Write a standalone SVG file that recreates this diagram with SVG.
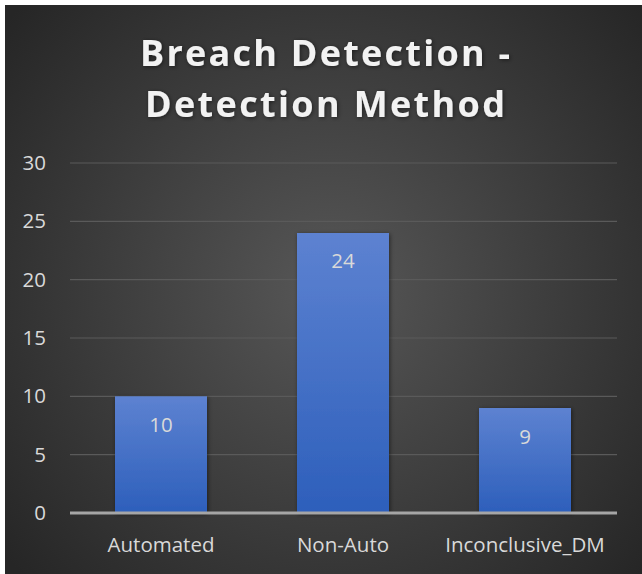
<svg xmlns="http://www.w3.org/2000/svg" width="642" height="574" viewBox="0 0 642 574">
  <defs>
    <radialGradient id="bg" cx="330" cy="290" r="420" gradientUnits="userSpaceOnUse">
      <stop offset="0" stop-color="#575757"/>
      <stop offset="1" stop-color="#262626"/>
    </radialGradient>
    <linearGradient id="bar" x1="0" y1="0" x2="0" y2="1">
      <stop offset="0" stop-color="#5d82d1"/>
      <stop offset="1" stop-color="#2d5fbb"/>
    </linearGradient>
    <filter id="shadow" x="-20%" y="-20%" width="140%" height="140%">
      <feDropShadow dx="1" dy="1" stdDeviation="2" flood-color="#000" flood-opacity="0.5"/>
    </filter>
  </defs>
  <style>
    .title { font-family: "Open Sans", "Noto Sans", sans-serif; font-weight: bold; font-size: 36px; fill: #f2f2f2; }
    .lbl { font-family: "Open Sans", "Noto Sans", sans-serif; font-size: 20.5px; fill: #d9d9d9; }
    .grid { stroke: #5a5a5a; stroke-width: 1.2; }
    .axis { stroke: #a6a6a6; stroke-width: 3; }
    .bar { fill: url(#bar); filter: url(#shadow); }
  </style>
  <rect x="0" y="0" width="642" height="574" fill="#ffffff"/>
  <rect x="5" y="5" width="637" height="569" fill="url(#bg)"/>

  <g id="title" filter="url(#shadow)">
    <text class="title" x="325" y="66" text-anchor="middle" textLength="370" lengthAdjust="spacing">Breach Detection -</text>
    <text class="title" x="325" y="117" text-anchor="middle" textLength="360" lengthAdjust="spacing">Detection Method</text>
  </g>

  <g id="gridlines">
    <line class="grid" x1="70" y1="163" x2="617" y2="163"/>
    <line class="grid" x1="70" y1="221.3" x2="617" y2="221.3"/>
    <line class="grid" x1="70" y1="279.7" x2="617" y2="279.7"/>
    <line class="grid" x1="70" y1="338" x2="617" y2="338"/>
    <line class="grid" x1="70" y1="396.3" x2="617" y2="396.3"/>
    <line class="grid" x1="70" y1="454.7" x2="617" y2="454.7"/>
  </g>

  <g id="y-axis-labels" text-anchor="end">
    <text class="lbl" x="46" y="170">30</text>
    <text class="lbl" x="46" y="228.3">25</text>
    <text class="lbl" x="46" y="286.7">20</text>
    <text class="lbl" x="46" y="345">15</text>
    <text class="lbl" x="46" y="403.3">10</text>
    <text class="lbl" x="46" y="461.7">5</text>
    <text class="lbl" x="46" y="520">0</text>
  </g>

  <g id="bar-automated">
    <rect class="bar" x="115" y="396.3" width="92" height="116.7"/>
    <text class="lbl" x="161" y="432" text-anchor="middle">10</text>
  </g>
  <g id="bar-non-auto">
    <rect class="bar" x="297" y="233" width="92" height="280"/>
    <text class="lbl" x="343" y="268" text-anchor="middle">24</text>
  </g>
  <g id="bar-inconclusive">
    <rect class="bar" x="479" y="408" width="92" height="105"/>
    <text class="lbl" x="525" y="444" text-anchor="middle">9</text>
  </g>

  <g id="x-axis">
    <line class="axis" x1="70" y1="513" x2="617" y2="513"/>
  </g>

  <g id="x-axis-labels" text-anchor="middle">
    <text class="lbl" x="161" y="552">Automated</text>
    <text class="lbl" x="343" y="552">Non-Auto</text>
    <text class="lbl" x="525" y="552">Inconclusive_DM</text>
  </g>
</svg>
